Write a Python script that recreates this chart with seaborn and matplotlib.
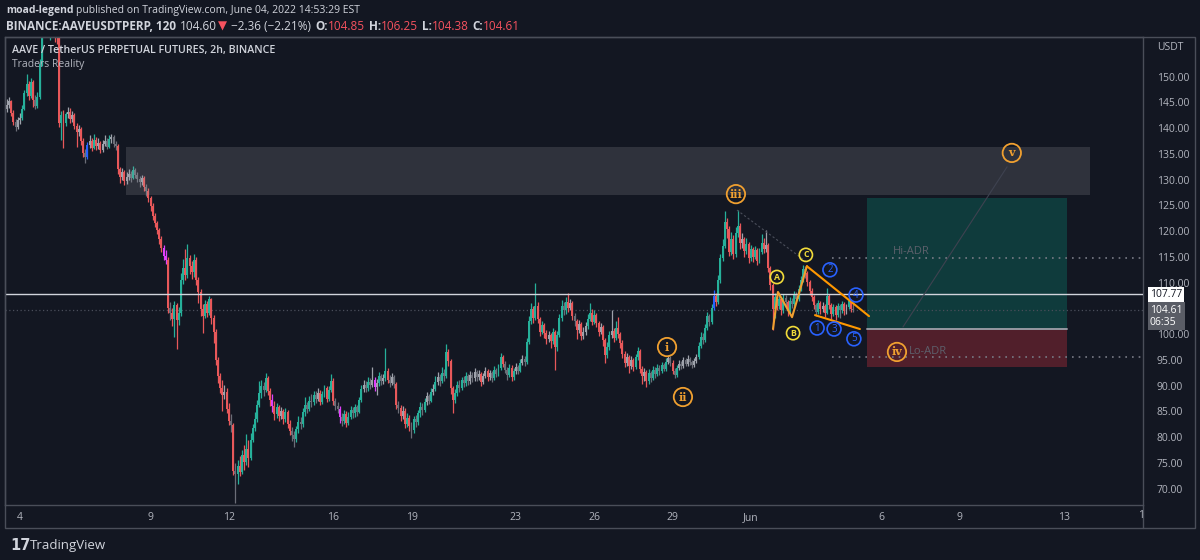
import matplotlib
matplotlib.use("Agg")
import matplotlib.pyplot as plt
import matplotlib.transforms as mtransforms
from matplotlib.patches import Rectangle
import numpy as np
import pandas as pd
import seaborn as sns

# 2h candles of AAVE/USDT perp, first candle May 3 12:00 (x in days since May 4 00:00)
first_open = 143.8
closes = [
    144.5, 145.2, 143.0, 141.2, 140.3, 141.5, 142.0, 143.8, 146.8, 148.5,
    146.2, 148.9, 145.5, 144.3, 146.0, 152.5, 159.0, 160.5, 162.0, 160.2,
    161.5, 163.0, 160.0, 158.5, 141.0, 142.5, 141.0, 142.8, 143.2, 141.8,
    142.5, 140.5, 139.2, 139.8, 137.5, 135.2, 134.5, 136.8, 137.5, 136.2,
    137.8, 136.5, 137.2, 135.8, 136.9, 137.6, 136.4, 137.9, 138.2, 137.0,
    136.6, 132.0, 130.6, 131.4, 129.8, 130.5, 131.2, 130.4, 131.8, 131.0,
    130.2, 129.5, 130.4, 128.6, 127.8, 126.5, 124.8, 123.0, 121.6, 120.2,
    118.5, 116.8, 115.2, 114.5, 105.0, 104.2, 103.0, 105.6, 102.8, 104.1,
    110.5, 112.8, 111.5, 114.8, 113.2, 112.0, 114.5, 110.5, 108.2, 104.8,
    103.6, 105.9, 104.2, 106.8, 103.2, 100.5, 95.0, 91.8, 89.6, 88.2,
    88.8, 85.5, 83.2, 82.4, 73.5, 72.8, 74.5, 73.2, 76.5, 75.2,
    77.8, 76.0, 79.5, 81.8, 83.5, 86.2, 88.5, 90.0, 89.2, 91.5,
    89.0, 87.2, 86.0, 84.5, 85.8, 84.2, 85.0, 83.5, 84.8, 82.6,
    81.2, 80.5, 79.6, 81.5, 83.0, 82.5, 84.8, 86.2, 85.5, 87.0,
    86.8, 88.2, 87.5, 88.6, 86.9, 88.3, 89.5, 87.5, 89.2, 91.0,
    87.0, 86.0, 85.5, 84.0, 83.2, 84.5, 82.8, 84.0, 85.2, 84.6,
    85.8, 84.9, 87.2, 89.4, 90.2, 89.5, 90.8, 90.2, 91.2, 89.8,
    90.5, 91.8, 90.9, 91.5, 92.8, 91.2, 90.6, 91.6, 90.4, 86.2,
    85.6, 84.2, 85.1, 82.6, 83.8, 82.2, 81.4, 83.5, 82.9, 84.6,
    85.9, 85.2, 86.8, 87.9, 87.1, 88.8, 89.4, 90.8, 91.6, 90.9,
    92.5, 91.8, 96.5, 94.8, 89.5, 87.2, 88.5, 90.2, 89.6, 91.2,
    90.5, 91.8, 90.9, 92.0, 91.4, 92.6, 91.6, 92.2, 90.8, 91.9,
    92.8, 91.6, 92.4, 91.5, 93.0, 92.2, 93.4, 95.6, 94.2, 93.1,
    92.0, 93.5, 91.6, 92.8, 93.6, 92.9, 94.5, 95.2, 94.6, 98.5,
    102.5, 104.8, 103.2, 105.5, 103.0, 100.5, 101.8, 100.2, 99.0, 99.8,
    98.6, 100.4, 97.5, 99.8, 103.2, 105.4, 104.6, 106.2, 105.0, 106.0,
    103.5, 102.6, 100.8, 101.9, 99.6, 100.4, 101.5, 103.0, 104.2, 102.4,
    103.8, 102.2, 100.5, 101.4, 98.8, 96.0, 97.5, 99.8, 100.6, 99.2,
    101.2, 100.0, 98.2, 96.2, 94.5, 95.6, 93.8, 94.9, 93.6, 95.5,
    96.8, 93.2, 91.8, 92.6, 91.0, 92.4, 91.5, 93.0, 92.2, 93.5,
    92.8, 94.0, 93.3, 94.6, 95.4, 94.5, 92.8, 92.0, 93.4, 94.2,
    93.8, 94.9, 94.3, 95.2, 94.6, 94.0, 94.8, 95.6, 97.8, 99.5,
    98.8, 101.2, 103.5, 102.4, 105.0, 107.5, 106.2, 110.5, 114.8, 117.2,
    121.8, 120.5, 116.0, 118.5, 115.6, 119.6, 121.0, 117.8, 118.4, 116.2,
    117.5, 114.8, 116.6, 115.0, 116.4, 114.2, 116.0, 117.8, 116.5, 117.4,
    112.8, 109.5, 104.8, 107.2, 105.5, 106.8, 104.6, 107.0, 106.2, 104.5,
    106.5, 105.8, 107.6, 106.9, 108.8, 110.5, 112.6, 111.8, 110.2, 108.4,
    107.2, 105.6, 104.4, 106.0, 104.8, 105.5, 104.2, 107.5, 105.6, 104.0,
    105.2, 103.8, 105.4, 104.6, 105.9, 104.5, 105.2, 106.4, 104.85, 104.61,
]
highs = [
    145.6, 146.0, 145.5, 143.6, 141.8, 142.2, 143.0, 144.6, 147.4, 150.6,
    149.2, 149.8, 149.3, 146.4, 147.0, 153.4, 160.2, 162.4, 163.5, 163.0,
    162.8, 164.6, 163.8, 161.2, 159.2, 143.4, 143.6, 143.2, 144.2, 143.9,
    143.3, 142.9, 141.0, 140.6, 140.2, 138.0, 136.0, 137.4, 138.6, 138.1,
    138.8, 138.3, 138.0, 137.6, 137.8, 138.7, 138.0, 138.6, 138.9, 138.6,
    137.5, 137.0, 132.4, 132.2, 131.9, 131.5, 132.1, 131.6, 132.7, 132.3,
    131.5, 130.8, 131.0, 130.7, 129.1, 128.3, 126.9, 125.4, 123.6, 122.0,
    120.6, 119.0, 117.3, 116.4, 115.0, 106.2, 105.0, 106.4, 106.0, 105.2,
    111.8, 114.6, 116.5, 117.6, 115.4, 114.2, 115.6, 114.9, 111.2, 108.8,
    105.9, 106.6, 106.5, 107.5, 107.0, 103.8, 101.0, 95.6, 92.4, 91.2,
    90.2, 89.5, 86.6, 84.5, 82.8, 75.0, 75.6, 76.4, 77.6, 78.5,
    80.6, 79.5, 80.8, 82.6, 84.8, 87.2, 91.0, 91.2, 90.8, 92.5,
    91.9, 89.6, 88.3, 87.0, 86.6, 86.2, 85.9, 85.5, 85.6, 85.2,
    83.4, 82.0, 81.2, 82.2, 84.2, 84.0, 85.6, 87.8, 86.9, 87.9,
    88.4, 89.0, 88.9, 89.5, 89.1, 89.0, 90.2, 89.9, 90.0, 92.2,
    91.4, 87.6, 86.8, 86.0, 84.6, 85.2, 85.0, 84.8, 86.0, 85.8,
    86.4, 86.2, 87.8, 90.2, 91.2, 91.0, 91.6, 91.4, 93.6, 91.6,
    91.3, 92.6, 92.3, 92.2, 97.3, 93.4, 92.0, 92.4, 92.0, 90.8,
    87.0, 86.2, 86.0, 85.6, 84.6, 84.3, 82.9, 84.2, 84.4, 85.2,
    86.8, 86.6, 87.6, 88.8, 88.4, 89.6, 90.4, 91.8, 92.6, 92.2,
    93.6, 93.2, 98.0, 97.2, 95.2, 90.0, 89.4, 91.0, 91.2, 91.7,
    91.9, 92.6, 92.3, 92.8, 92.7, 93.4, 93.0, 93.0, 92.6, 92.5,
    93.6, 93.2, 93.0, 92.9, 93.8, 93.5, 94.2, 96.3, 95.9, 94.7,
    93.6, 94.2, 94.0, 93.5, 94.4, 94.1, 95.2, 96.0, 95.8, 99.2,
    103.6, 106.0, 105.4, 110.0, 106.2, 103.4, 102.6, 102.2, 100.8, 100.6,
    100.2, 101.2, 100.8, 100.6, 104.0, 106.6, 106.2, 107.2, 108.0, 106.8,
    106.4, 104.2, 103.0, 102.8, 102.4, 101.4, 102.4, 104.0, 106.0, 104.8,
    104.6, 104.2, 102.6, 102.2, 101.8, 99.2, 98.4, 100.6, 104.7, 101.2,
    102.6, 103.3, 100.5, 98.8, 96.8, 96.4, 96.0, 95.7, 95.4, 96.2,
    97.5, 97.2, 93.8, 93.4, 93.0, 93.2, 92.9, 93.8, 93.6, 94.3,
    94.0, 94.6, 94.5, 95.3, 96.0, 95.8, 94.9, 93.4, 94.0, 95.0,
    94.8, 95.6, 95.4, 95.9, 95.6, 95.0, 95.3, 96.2, 98.4, 100.4,
    100.2, 102.0, 104.4, 104.0, 105.8, 108.6, 108.0, 111.4, 115.6, 118.5,
    124.0, 122.6, 121.0, 119.8, 119.2, 120.8, 124.2, 121.6, 119.6, 118.9,
    118.6, 117.9, 117.4, 117.0, 117.2, 116.8, 116.8, 119.5, 118.6, 120.2,
    117.8, 113.2, 110.0, 108.0, 107.8, 107.6, 107.2, 107.8, 107.6, 106.6,
    107.3, 107.0, 108.4, 108.2, 109.6, 111.3, 113.5, 113.2, 112.2, 110.6,
    108.9, 107.6, 106.0, 106.6, 106.4, 106.2, 105.9, 109.0, 107.9, 106.0,
    105.8, 105.6, 106.0, 105.8, 106.5, 106.2, 105.8, 107.0, 106.8, 106.25,
]
lows = [
    143.2, 144.0, 142.4, 140.6, 139.4, 139.8, 140.9, 141.6, 143.5, 146.2,
    145.5, 145.9, 144.2, 143.8, 143.9, 145.6, 152.0, 157.8, 159.6, 158.4,
    157.2, 160.6, 156.8, 156.4, 140.2, 137.8, 136.2, 140.4, 141.9, 141.0,
    141.2, 139.8, 136.4, 138.5, 136.8, 134.4, 133.2, 134.0, 136.2, 135.6,
    135.9, 135.8, 136.0, 135.1, 135.4, 136.5, 135.9, 136.1, 137.2, 136.4,
    135.8, 131.2, 129.4, 130.0, 129.0, 129.2, 130.0, 129.6, 130.1, 130.3,
    129.5, 128.6, 128.9, 127.9, 126.8, 125.6, 124.0, 122.2, 120.8, 119.4,
    117.6, 116.0, 114.5, 113.6, 104.2, 102.8, 101.6, 99.5, 97.2, 101.8,
    103.6, 109.8, 110.6, 110.9, 111.6, 110.8, 111.2, 109.6, 106.0, 103.6,
    100.2, 103.1, 103.4, 103.8, 102.0, 98.3, 94.0, 90.6, 88.6, 85.0,
    87.4, 84.6, 82.4, 81.0, 72.6, 67.2, 71.0, 72.4, 72.8, 73.6,
    74.6, 74.2, 75.6, 79.0, 81.2, 83.0, 85.8, 87.6, 88.0, 88.8,
    88.2, 86.0, 84.8, 83.4, 83.8, 83.2, 83.6, 82.6, 82.9, 81.8,
    80.4, 79.2, 78.0, 79.0, 80.8, 81.6, 82.0, 84.2, 84.6, 85.0,
    85.9, 86.2, 86.6, 87.0, 86.2, 86.5, 87.8, 86.8, 87.0, 88.8,
    86.2, 85.2, 84.6, 82.8, 82.2, 82.6, 82.0, 82.4, 83.6, 83.8,
    84.0, 84.2, 84.6, 86.8, 88.8, 88.7, 89.0, 89.4, 89.8, 89.0,
    88.2, 90.0, 90.2, 90.4, 91.0, 90.6, 89.8, 90.1, 89.6, 85.4,
    84.6, 83.2, 83.6, 81.8, 82.0, 81.2, 79.8, 80.9, 82.0, 82.4,
    84.0, 84.4, 84.8, 86.2, 86.4, 86.8, 88.2, 89.0, 90.2, 90.0,
    90.5, 91.0, 91.4, 93.8, 88.4, 84.6, 86.6, 88.0, 88.8, 89.2,
    89.8, 90.0, 90.2, 90.4, 90.8, 91.0, 90.9, 91.2, 90.0, 90.4,
    91.4, 91.0, 91.2, 90.8, 91.2, 91.6, 91.9, 93.0, 93.6, 92.4,
    91.2, 91.6, 91.0, 91.2, 92.3, 92.2, 92.6, 94.0, 93.9, 94.3,
    98.0, 101.9, 102.2, 102.8, 102.2, 99.6, 100.0, 99.2, 98.0, 98.4,
    97.4, 98.0, 93.0, 96.8, 99.4, 102.6, 103.8, 104.0, 104.4, 104.6,
    102.8, 101.6, 99.0, 100.2, 98.8, 99.0, 99.9, 101.0, 102.6, 101.8,
    101.9, 101.4, 99.6, 100.0, 97.8, 94.4, 95.4, 97.0, 99.2, 98.4,
    98.8, 99.2, 97.4, 95.4, 93.6, 93.9, 92.4, 93.2, 92.8, 93.2,
    95.0, 92.4, 90.4, 91.0, 89.7, 90.4, 90.8, 91.2, 91.5, 91.8,
    92.1, 92.4, 92.8, 92.9, 94.2, 93.8, 92.2, 91.5, 91.7, 93.0,
    93.2, 93.5, 93.8, 93.9, 94.0, 93.5, 93.7, 94.4, 95.2, 97.4,
    98.0, 98.4, 100.8, 101.6, 102.0, 104.6, 105.4, 105.8, 110.0, 114.2,
    116.8, 118.6, 115.2, 115.4, 114.6, 115.0, 118.8, 116.6, 116.8, 115.0,
    115.6, 113.8, 114.2, 114.0, 114.6, 113.4, 113.8, 115.6, 115.8, 116.0,
    112.0, 108.6, 100.8, 103.2, 104.6, 104.9, 103.8, 104.2, 105.4, 103.6,
    104.1, 105.0, 105.4, 106.2, 106.5, 108.4, 110.1, 111.0, 109.4, 107.6,
    106.4, 104.8, 103.6, 104.0, 104.0, 104.3, 103.4, 103.9, 104.8, 103.0,
    103.6, 102.8, 103.4, 103.2, 104.2, 103.8, 104.0, 104.9, 104.4, 104.38,
]
# PVSRA volume-coloured candles (blue / magenta)
special_colors = {37: "#2962ff", 72: "#e040fb", 73: "#e040fb", 122: "#e040fb",
                  153: "#e040fb", 169: "#e040fb", 325: "#2962ff"}

# axis ticks
date_ticks = [0, 5, 8, 12, 15, 19, 22, 25, 28, 33, 36, 40]
date_labels = ["4", "9", "12", "16", "19", "23", "26", "29", "Jun", "6", "9", "13"]
price_ticks = [150, 145, 140, 135, 130, 125, 120, 115, 110, 100, 95, 90, 85, 80, 75, 70]

# levels / zones
last_price = 104.61
h_line = 107.77
hi_adr = 114.85
lo_adr = 95.5
zone_x = (4.06, 41.0)
zone_y = (127.0, 136.4)
pos_x = (32.44, 40.11)
pos_target, pos_entry, pos_stop = 126.4, 101.0, 93.6

# wave labels (day, price, text)
wave_x = [24.79, 25.40, 27.43, 33.60, 38.00]
wave_y = [97.5, 87.8, 127.2, 96.55, 135.2]
wave_txt = ["i", "ii", "iii", "iv", "v"]
abc_x = [29.00, 29.62, 30.11]
abc_y = [111.1, 100.2, 115.4]
abc_txt = ["A", "B", "C"]
sub_x = [30.54, 31.03, 31.19, 32.03, 31.95]
sub_y = [101.2, 112.5, 101.0, 107.6, 99.1]
sub_txt = ["1", "2", "3", "4", "5"]
zig_x = [28.85, 29.04, 29.58, 30.15]
zig_y = [101.0, 108.2, 103.3, 113.2]
wedge_up_x, wedge_up_y = [30.15, 32.53], [113.2, 103.5]
wedge_lo_x, wedge_lo_y = [30.46, 32.18], [103.7, 101.0]

BG = "#131722"
TEAL = "#26b09a"
RED = "#e8585a"
GREY_UP = "#9ea2ab"
GREY_DN = "#6b6e78"
ORANGE = "#f0a030"
YELLOW = "#f2dc3a"
BLUE = "#2962ff"
TXT = "#d1d4dc"
AXT = "#b2b5be"
FRAME = "#4a4e59"

sns.set_theme(style="dark", rc={"axes.facecolor": BG, "figure.facecolor": BG,
                                "axes.edgecolor": FRAME, "text.color": TXT})
plt.rcParams["font.family"] = ["Open Sans", "DejaVu Sans"]

W, H = 1200, 560
fig = plt.figure(figsize=(12, 5.6), dpi=100)
ax = fig.add_axes([5 / W, 55 / H, 1138 / W, 468 / H])
ax.set_facecolor(BG)
ax.grid(False)

df = pd.DataFrame({"close": closes, "high": highs, "low": lows})
df["open"] = [first_open] + closes[:-1]
df["x"] = -0.5 + np.arange(len(df)) / 12.0
body = (df["close"] - df["open"]).abs()
up = df["close"] >= df["open"]
big = body >= 1.2
cols = np.where(up, np.where(big, TEAL, GREY_UP), np.where(big, RED, GREY_DN)).astype(object)
for k, c in special_colors.items():
    cols[k] = c
df["color"] = cols

ax.vlines(df["x"], df["low"], df["high"], colors=df["color"], lw=0.9, zorder=3)
ax.bar(df["x"], np.maximum(body, 0.15), bottom=np.minimum(df["open"], df["close"]),
       width=0.075, color=df["color"], lw=0, zorder=4)

# supply zone
ax.add_patch(Rectangle((zone_x[0], zone_y[0]), zone_x[1] - zone_x[0], zone_y[1] - zone_y[0],
                       fc=(0.63, 0.63, 0.66, 0.2), ec="none", zorder=5))
# long position tool
ax.add_patch(Rectangle((pos_x[0], pos_entry), pos_x[1] - pos_x[0], pos_target - pos_entry,
                       fc=(8 / 255, 153 / 255, 129 / 255, 0.28), ec="none", zorder=2))
ax.add_patch(Rectangle((pos_x[0], pos_stop), pos_x[1] - pos_x[0], pos_entry - pos_stop,
                       fc=(242 / 255, 54 / 255, 69 / 255, 0.28), ec="none", zorder=2))
ax.plot(pos_x, [pos_entry, pos_entry], color="#9598a1", lw=1.4, zorder=6)

# horizontal lines
ax.axhline(h_line, color=TXT, lw=1.0, zorder=6)
ax.axhline(last_price, color="#4a4e5a", lw=0.9, ls=(0, (1, 2)), zorder=2)
ax.plot([31.11, 44], [hi_adr, hi_adr], color="#787b86", lw=1.2, ls=(0, (1, 3)), zorder=6)
ax.plot([31.11, 44], [lo_adr, lo_adr], color="#787b86", lw=1.2, ls=(0, (1, 3)), zorder=6)
ax.text(33.45, 116.0, "Hi-ADR", color="#5d606b", fontsize=8, va="center", zorder=6)
ax.text(34.05, 96.55, "Lo-ADR", color="#5d606b", fontsize=8, va="center", zorder=6)

# faint projection lines
ax.plot([27.47, 30.15], [124.1, 114.0], color="#4a4e5a", lw=0.8, ls=(0, (2, 2)), zorder=6)
ax.plot([33.83, 37.82], [101.4, 132.5], color="#3e4250", lw=0.8, zorder=6)

# wave drawings
ax.plot(zig_x, zig_y, color=ORANGE, lw=1.5, zorder=7)
ax.plot(wedge_up_x, wedge_up_y, color="#ff9800", lw=1.5, zorder=7)
ax.plot(wedge_lo_x, wedge_lo_y, color="#ff9800", lw=1.5, zorder=7)

waves = pd.DataFrame({"d": wave_x, "p": wave_y})
sns.scatterplot(data=waves, x="d", y="p", s=175, color=ORANGE, facecolor="none",
                edgecolor=ORANGE, linewidth=1.3, ax=ax, zorder=8, legend=False)
for x, y, t in zip(wave_x, wave_y, wave_txt):
    ax.text(x, y, t, color=ORANGE, fontsize=8, fontweight="bold", family="DejaVu Serif",
            ha="center", va="center", zorder=9)
abc = pd.DataFrame({"d": abc_x, "p": abc_y})
sns.scatterplot(data=abc, x="d", y="p", s=90, color=YELLOW, facecolor="none",
                edgecolor=YELLOW, linewidth=1.2, ax=ax, zorder=8, legend=False)
for x, y, t in zip(abc_x, abc_y, abc_txt):
    ax.text(x, y, t, color=YELLOW, fontsize=6.3, fontweight="bold",
            ha="center", va="center", zorder=9)
sub = pd.DataFrame({"d": sub_x, "p": sub_y})
sns.scatterplot(data=sub, x="d", y="p", s=100, color=BLUE, facecolor="none",
                edgecolor=BLUE, linewidth=1.2, ax=ax, zorder=8, legend=False)
for x, y, t in zip(sub_x, sub_y, sub_txt):
    ax.text(x, y, t, color=BLUE, fontsize=7, ha="center", va="center", zorder=9)

ax.set_xlabel("")
ax.set_ylabel("")
ax.set_xlim((5 - 20) / 26.1, (1143 - 20) / 26.1)
ax.set_ylim(66.83, 157.71)

ax.set_xticks(date_ticks)
ax.set_xticklabels(date_labels)
ax.yaxis.tick_right()
ax.set_yticks(price_ticks)
ax.set_yticklabels([f"{p:.2f}" for p in price_ticks])
ax.tick_params(axis="x", length=0, pad=5, labelsize=7.5, labelcolor=AXT)
ax.tick_params(axis="y", length=0, pad=10, labelsize=7.5, labelcolor=AXT)
for s in ax.spines.values():
    s.set_color(FRAME)
    s.set_linewidth(1.0)

# outer frame round price and time scales
fig.add_artist(Rectangle((5 / W, 1 - 528 / H), 1190 / W, 491 / H, transform=fig.transFigure,
                         fc="none", ec=FRAME, lw=1.0))
fig.add_artist(plt.Line2D([1143 / W, 1143 / W], [1 - 528 / H, 1 - 505 / H],
                          transform=fig.transFigure, color=FRAME, lw=1.0))
fig.text(1138 / W, 1 - 516 / H, "1", color=AXT, fontsize=7.5, va="center", ha="left")
fig.text(1157 / W, 1 - 47 / H, "USDT", color=AXT, fontsize=7.5, va="center", ha="left")

# price scale labels
trans = mtransforms.blended_transform_factory(fig.transFigure, ax.transData)
ax.text(1150 / W, h_line, f"{h_line:.2f}", transform=trans, color=BG, fontsize=7.5,
        va="center", ha="left", clip_on=False, zorder=10,
        bbox=dict(boxstyle="square,pad=0.2", fc="white", ec="none"))
ax.text(1150 / W, last_price - 1.1, f"{last_price:.2f}\n06:35", transform=trans, color="white",
        fontsize=7.5, va="center", ha="left", linespacing=1.15, clip_on=False, zorder=10,
        bbox=dict(boxstyle="square,pad=0.2", fc="#5a5d66", ec="none"))

# legend texts inside the pane
ax.text(7 / 1138, 1 - 13 / 468, "AAVE / TetherUS PERPETUAL FUTURES, 2h, BINANCE",
        transform=ax.transAxes, color=TXT, fontsize=7.7, fontweight="semibold", va="center", zorder=10)
ax.text(7 / 1138, 1 - 27 / 468, "Traders Reality", transform=ax.transAxes,
        color=AXT, fontsize=7.5, va="center", zorder=10)


def run_text(parts, x0, y0, size):
    r = fig.canvas.get_renderer()
    x = x0
    for txt, color, weight, gap in parts:
        x += gap
        t = fig.text(x / W, 1 - y0 / H, txt, color=color, fontsize=size,
                     fontweight=weight, ha="left", va="center")
        x += t.get_window_extent(r).width


HRED = "#f7525f"
run_text([("moad-legend", TXT, "bold", 0),
          ("published on TradingView.com, June 04, 2022 14:53:29 EST", TXT, "normal", 3)], 6, 10, 7.5)
run_text([("BINANCE:AAVEUSDTPERP, 120", TXT, "bold", 0),
          ("104.60", TXT, "normal", 4), ("▼", HRED, "normal", 1),
          ("\u22122.36 (\u22122.21%)", TXT, "normal", 4),
          ("O:", TXT, "bold", 4), ("104.85", HRED, "normal", 0),
          ("H:", TXT, "bold", 4), ("106.25", HRED, "normal", 0),
          ("L:", TXT, "bold", 4), ("104.38", HRED, "normal", 0),
          ("C:", TXT, "bold", 4), ("104.61", HRED, "normal", 0)], 6, 26, 8.5)

# footer logo
fig.text(10 / W, 1 - 546 / H, "17", color=TXT, fontsize=10.5, fontweight="heavy",
         family="DejaVu Sans", va="center", ha="left")
fig.text(30 / W, 1 - 546 / H, "TradingView", color=TXT, fontsize=9.5, va="center", ha="left")

fig.savefig("out.png", dpi=100, facecolor=BG)
